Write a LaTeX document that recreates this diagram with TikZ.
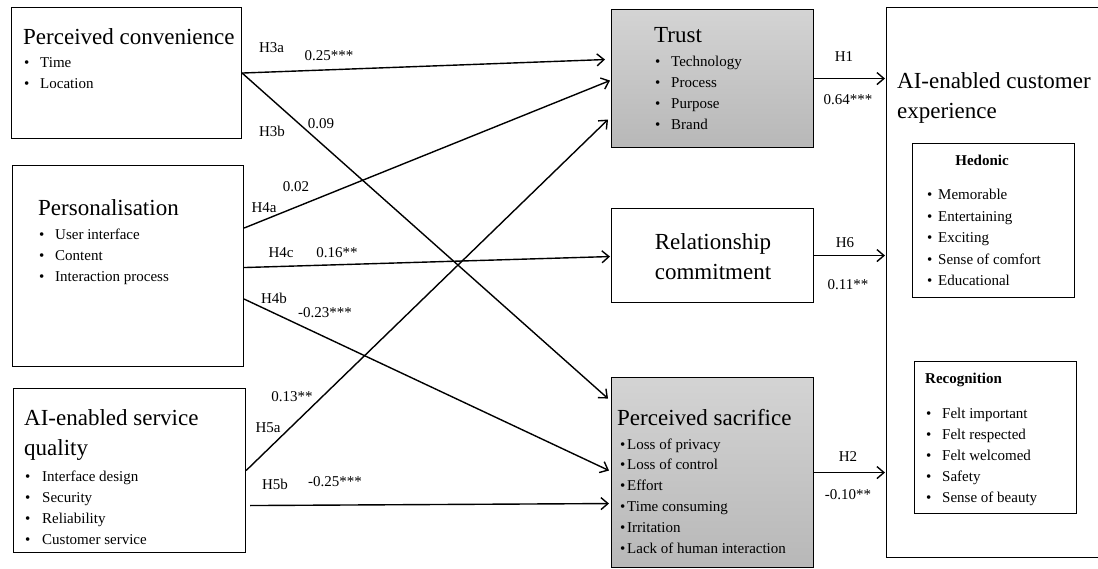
\documentclass[tikz,border=0pt]{standalone}
\usepackage{fontspec}
\setmainfont{Liberation Serif}
\usetikzlibrary{arrows.meta}

\newcommand{\titlesize}{\fontsize{23}{30}\selectfont}
\newcommand{\itemsize}{\fontsize{15}{21}\selectfont}

\tikzset{
  box/.style={draw, line width=1.1pt, anchor=north west, inner sep=0pt},
  greybox/.style={box, top color=black!17, bottom color=black!28},
  title/.style={anchor=base west, inner sep=0pt, font=\titlesize},
  item/.style={anchor=base west, inner sep=0pt, font=\itemsize},
  lbl/.style={inner sep=0pt, font=\itemsize},
  arr/.style={-{Straight Barb[length=7pt,width=12pt]}, line width=1.4pt},
}

\begin{document}
\begin{tikzpicture}[x=1pt,y=-1pt]
  \useasboundingbox (0,0) rectangle (1098,569);

  % antecedents
  \node[box, minimum width=230pt, minimum height=131pt] (pc) at (11,7) {};
  \node[box, minimum width=231pt, minimum height=201pt] (pers) at (12,165) {};
  \node[box, minimum width=232pt, minimum height=164pt] (aisq) at (13,388) {};

  % mediators
  \node[greybox, minimum width=202pt, minimum height=138pt] (trust) at (611,9) {};
  \node[box, minimum width=202pt, minimum height=94pt] (rc) at (611,208) {};
  \node[greybox, minimum width=202pt, minimum height=190pt] (sac) at (611,377) {};

  % outcome
  \node[box, minimum width=240pt, minimum height=550pt] (cx) at (886,7) {};
  \node[box, minimum width=162pt, minimum height=154pt] (hed) at (912,143) {};
  \node[box, minimum width=162pt, minimum height=152pt] (rec) at (914,361) {};

  % titles
  \node[title] (pc-t) at (23,45) {Perceived convenience};
  \node[title] (pers-t) at (38,216) {Personalisation};
  \node[title] (aisq-t1) at (24,425) {AI-enabled service};
  \node[title] (aisq-t2) at (24,455) {quality};
  \node[title] (trust-t) at (654,43) {Trust};
  \node[title, anchor=base] (rc-t1) at (713,250) {Relationship};
  \node[title, anchor=base] (rc-t2) at (713,280) {commitment};
  \node[title] (sac-t) at (617,425) {Perceived sacrifice};
  \node[title] (cx-t1) at (897,89) {AI-enabled customer};
  \node[title] (cx-t2) at (897,119) {experience};
  \node[item, anchor=base, font=\itemsize\bfseries] (hed-t) at (982,166) {Hedonic};
  \node[item, font=\itemsize\bfseries] (rec-t) at (925,383) {Recognition};

  % item lists
  \foreach \txt [count=\i] in {Time, Location}
    \node[item] (pc-\i) at (24,{68+21*(\i-1)}) {\makebox[16pt][l]{\textbullet}\txt};
  \foreach \txt [count=\i] in {User interface, Content, Interaction process}
    \node[item] (pers-\i) at (39,{240+21*(\i-1)}) {\makebox[16pt][l]{\textbullet}\txt};
  \foreach \txt [count=\i] in {Interface design, Security, Reliability, Customer service}
    \node[item] (aisq-\i) at (25,{481+21*(\i-1)}) {\makebox[17pt][l]{\textbullet}\txt};
  \foreach \txt [count=\i] in {Technology, Process, Purpose, Brand}
    \node[item] (trust-\i) at (655,{67+20.7*(\i-1)}) {\makebox[16pt][l]{\textbullet}\txt};
  \foreach \txt [count=\i] in {Loss of privacy, Loss of control, Effort, Time consuming, Irritation, Lack of human interaction}
    \node[item] (sac-\i) at (620,{449+20.8*(\i-1)}) {\makebox[7pt][l]{\textbullet}\txt};
  \foreach \txt [count=\i] in {Memorable, Entertaining, Exciting, Sense of comfort, Educational}
    \node[item] (hed-\i) at (927,{200+21.5*(\i-1)}) {\makebox[11pt][l]{\textbullet}\txt};
  \foreach \txt [count=\i] in {Felt important, Felt respected, Felt welcomed, Safety, Sense of beauty}
    \node[item] (rec-\i) at (926,{418+21*(\i-1)}) {\makebox[16pt][l]{\textbullet}\txt};

  % paths
  \draw[arr] (pc.east) -- ([xshift=-6pt,yshift=19pt]trust.west);
  \draw[arr] (pc.east) -- ([xshift=-3pt,yshift=74pt]sac.west);
  \draw[arr] ([yshift=38pt]pers.east) -- ([xshift=-1pt,yshift=-2pt]trust.west);
  \draw[arr] ([yshift=-1.5pt]pers.east) -- ([xshift=-1pt,yshift=-1pt]rc.west);
  \draw[arr] ([yshift=-33pt]pers.east) -- ([xshift=-2pt,yshift=2pt]sac.west);
  \draw[arr] (aisq.east) -- ([xshift=-3pt,yshift=-41pt]trust.west);
  \draw[arr] ([xshift=4pt,yshift=-35pt]aisq.east) -- ([xshift=-2pt,yshift=-31pt]sac.west);
  \draw[arr] (trust.east) -- ([xshift=-1pt]trust.east -| cx.west);
  \draw[arr] (rc.east) -- ([xshift=-1pt]rc.east -| cx.west);
  \draw[arr] (sac.east) -- ([xshift=-1pt]sac.east -| cx.west);

  % path labels
  \node[lbl] (h3a) at (271.5,48) {H3a};
  \node[lbl] (b3a) at (329,56) {0.25***};
  \node[lbl] (h3b) at (272,131) {H3b};
  \node[lbl] (b3b) at (321,124) {0.09};
  \node[lbl] (b4a) at (296,187) {0.02};
  \node[lbl] (h4a) at (264,208) {H4a};
  \node[lbl] (h4c) at (281,253) {H4c};
  \node[lbl] (b4c) at (337,253) {0.16**};
  \node[lbl] (h4b) at (274,298) {H4b};
  \node[lbl] (b4b) at (325,313) {-0.23***};
  \node[lbl] (b5a) at (292,397) {0.13**};
  \node[lbl] (h5a) at (268,428) {H5a};
  \node[lbl] (h5b) at (275,484) {H5b};
  \node[lbl] (b5b) at (335,482) {-0.25***};
  \node[lbl] (h1) at (844,57) {H1};
  \node[lbl] (b1) at (848,100) {0.64***};
  \node[lbl] (h6) at (845,243) {H6};
  \node[lbl] (b6) at (848,285) {0.11**};
  \node[lbl] (h2) at (848,457) {H2};
  \node[lbl] (b2) at (848,495) {-0.10**};
\end{tikzpicture}
\end{document}
